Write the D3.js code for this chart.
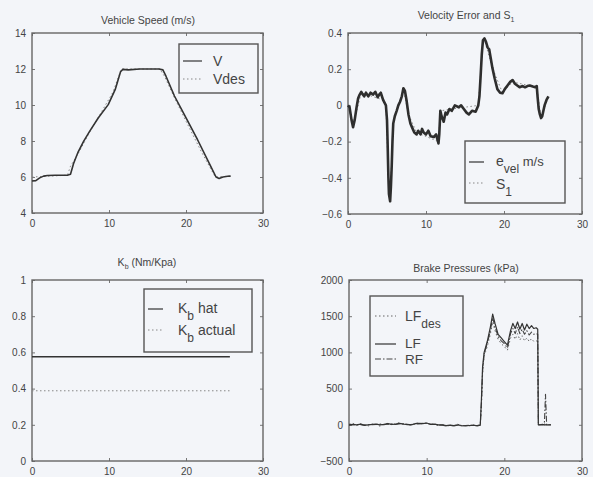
<!DOCTYPE html>
<html><head><meta charset="utf-8">
<script src="https://cdn.jsdelivr.net/npm/d3@7/dist/d3.min.js"></script>
<style>
html,body{margin:0;padding:0;background:#f3f5f9;}
svg{display:block;}
text,tspan{font-family:"Liberation Sans",Arial,sans-serif;fill:#444;}
</style></head><body>
<svg id="c" width="593" height="477"></svg>
<script>
// ---------- DATA ----------
const xTicks = [0, 10, 20, 30];

// Panel 1: Vehicle speed
const speedTicks = [4, 6, 8, 10, 12, 14];
const vTime = [0, 0.5, 1, 1.5, 2, 3, 4, 4.6, 5, 5.4, 6, 6.7, 7.5, 8.6, 9.9, 10.8, 11.5, 11.8, 12.5, 14, 15.5, 16.5, 17, 17.4, 18.5, 19.8, 21.5, 23.2, 23.9, 24.3, 24.8, 25.4, 25.8];
const vSpeed = [5.78, 5.8, 5.95, 6.05, 6.08, 6.1, 6.1, 6.1, 6.15, 6.75, 7.4, 7.98, 8.55, 9.28, 10.02, 10.85, 11.85, 11.98, 11.95, 12.0, 12.0, 12.0, 11.95, 11.6, 10.5, 9.45, 8.07, 6.6, 6.0, 5.92, 6.0, 6.04, 6.05];
const vdesTime = [0, 4.6, 5.0, 6, 7.5, 9, 10.5, 11.6, 16.6, 17.2, 18.5, 20, 22, 23.8, 25.8];
const vdesSpeed = [6.0, 6.1, 6.6, 7.3, 8.5, 9.6, 10.7, 12.0, 12.0, 11.6, 10.4, 9.1, 7.4, 6.0, 6.05];

// Panel 2: Velocity error and S1
const errTicks = [-0.6, -0.4, -0.2, 0, 0.2, 0.4];
const eTime = [0, 0.2, 0.45, 0.65, 0.86, 1.1, 1.3, 1.5, 1.7, 1.9, 2.07, 2.3, 2.6, 2.9, 3.2, 3.5, 3.8, 4.0, 4.2, 4.5, 4.86, 5.0, 5.08, 5.18, 5.25, 5.4, 5.5, 5.6, 5.7, 5.8, 6.0, 6.24, 6.45, 6.67, 6.9, 7.1, 7.3, 7.5, 7.75, 8.0, 8.2, 8.5, 8.8, 9.0, 9.3, 9.5, 9.7, 10.0, 10.3, 10.6, 11.0, 11.3, 11.6, 11.7, 11.84, 12.0, 12.27, 12.5, 12.7, 13.0, 13.3, 13.7, 14.2, 14.5, 14.85, 15.2, 15.5, 15.9, 16.36, 16.7, 16.85, 17.0, 17.15, 17.3, 17.5, 17.7, 17.9, 18.1, 18.3, 18.5, 18.8, 19.15, 19.5, 19.8, 20.1, 20.45, 20.8, 21.1, 21.4, 21.7, 22.0, 22.4, 22.7, 23.0, 23.3, 23.7, 24.0, 24.2, 24.3, 24.45, 24.6, 24.75, 24.9, 25.05, 25.2, 25.45, 25.7];
const eVel = [0.0, -0.01, -0.08, -0.12, -0.08, -0.01, 0.04, 0.06, 0.075, 0.06, 0.05, 0.07, 0.05, 0.07, 0.06, 0.075, 0.045, 0.06, 0.07, 0.03, 0.0, -0.08, -0.21, -0.4, -0.49, -0.53, -0.45, -0.34, -0.2, -0.1, -0.06, -0.03, 0.0, 0.02, 0.05, 0.095, 0.08, 0.03, -0.05, -0.1, -0.12, -0.15, -0.16, -0.14, -0.16, -0.13, -0.15, -0.16, -0.14, -0.17, -0.175, -0.16, -0.21, -0.16, -0.03, -0.06, -0.09, -0.04, -0.05, -0.02, -0.03, -0.0, -0.01, 0.0, -0.02, -0.04, -0.05, -0.03, -0.035, 0.0, 0.05, 0.16, 0.28, 0.36, 0.37, 0.35, 0.32, 0.31, 0.26, 0.21, 0.15, 0.09, 0.07, 0.067, 0.09, 0.11, 0.13, 0.14, 0.12, 0.11, 0.1, 0.107, 0.1, 0.107, 0.11, 0.104, 0.1, 0.107, 0.05, -0.02, -0.05, -0.07, -0.06, -0.03, 0.0, 0.03, 0.05];
const s1Time = [0, 0.65, 1.7, 4.5, 4.86, 5.25, 5.4, 5.8, 7.1, 7.75, 8.8, 11.6, 11.84, 13.3, 16.7, 17.3, 17.5, 18.5, 19.8, 21.1, 24.2, 24.75, 25.7];
const s1Val = [0.0, -0.11, 0.07, 0.03, 0.0, -0.48, -0.52, -0.1, 0.09, -0.05, -0.15, -0.2, -0.03, -0.02, 0.0, 0.35, 0.36, 0.21, 0.07, 0.13, 0.1, -0.07, 0.05];

// Panel 3: Kb
const kbTicks = [0, 0.2, 0.4, 0.6, 0.8, 1];
const kbTime = [0, 25.7];
const kbHat = [0.576, 0.576];
const kbActual = [0.388, 0.388];

// Panel 4: Brake pressures
const bpTicks = [-500, 0, 500, 1000, 1500, 2000];
const bpTime = [0, 0.5, 1, 1.5, 2, 2.5, 3, 3.5, 4, 4.5, 5, 5.5, 6, 6.5, 7, 7.5, 8, 8.5, 9, 9.5, 10, 10.5, 11, 11.5, 12, 12.5, 13, 13.5, 14, 14.5, 15, 15.5, 16, 16.5, 16.9, 17.05, 17.2, 17.4, 17.8, 18.2, 18.5, 18.8, 19.2, 19.6, 20.0, 20.4, 20.8, 21.1, 21.4, 21.7, 22.0, 22.3, 22.6, 22.9, 23.2, 23.5, 23.8, 24.1, 24.3, 24.38, 24.6, 24.9, 25.15, 25.3, 25.45, 25.7, 26.0];
const lfDes = [10, 20, -10, 15, 0, -15, 10, 5, -20, 10, 20, 0, 15, 30, 5, 10, -10, 20, 25, 10, 30, 0, 15, -10, 5, -20, -5, -15, 10, -20, -10, -15, -5, -10, 0, 250, 700, 950, 1080, 1250, 1420, 1300, 1180, 1120, 1080, 1030, 1200, 1250, 1180, 1260, 1170, 1230, 1160, 1200, 1150, 1190, 1150, 1160, 1150, 0, 10, -5, 15, 5, -10, 0, 5];
const lf = [0, 5, 0, 10, -5, 0, 5, 10, 0, 5, 15, 5, 10, 20, 10, 5, 0, 15, 20, 15, 25, 5, 10, 0, 0, -10, -5, -10, 0, -10, -15, -10, -5, -15, -5, 350, 800, 1000, 1150, 1350, 1530, 1400, 1250, 1200, 1150, 1100, 1300, 1400, 1330, 1420, 1320, 1400, 1310, 1390, 1330, 1370, 1330, 1340, 1320, 0, 0, 5, 0, 0, 0, 0, 0];
const rf = [-5, 0, 5, 0, -10, 5, 0, 5, 10, 0, 10, 10, 5, 15, 15, 0, 5, 10, 15, 20, 20, 10, 5, -5, -5, -15, -10, -15, -5, -15, -10, -5, -10, -10, -5, 300, 750, 980, 1120, 1300, 1480, 1350, 1220, 1160, 1120, 1060, 1260, 1330, 1260, 1350, 1260, 1320, 1250, 1300, 1240, 1280, 1250, 1260, 1250, 0, 0, 0, 0, 420, 0, 0, 0];

// ---------- DRAW ----------
const svg = d3.select("#c");
const ink = "#333";

function panel(o) {
  const x = d3.scaleLinear().domain([0, 30]).range([o.x0, o.x1]);
  const y = d3.scaleLinear().domain(o.yDomain).range([o.y1, o.y0]);
  const g = svg.append("g");
  const fmt = o.fmt || (d => d3.format("")(d));
  const ax = (a, t) => a.tickValues(t).tickSizeOuter(0);
  g.append("g").attr("transform", `translate(0,${o.y1})`)
    .call(ax(d3.axisBottom(x), xTicks).tickSizeInner(-3).tickPadding(7).tickFormat(d3.format("d")));
  g.append("g").attr("transform", `translate(0,${o.y0})`)
    .call(ax(d3.axisTop(x), xTicks).tickSizeInner(-3).tickFormat(""));
  g.append("g").attr("transform", `translate(${o.x0},0)`)
    .call(ax(d3.axisLeft(y), o.yTicks).tickSizeInner(-3).tickPadding(6).tickFormat(fmt));
  g.append("g").attr("transform", `translate(${o.x1},0)`)
    .call(ax(d3.axisRight(y), o.yTicks).tickSizeInner(-3).tickFormat(""));
  g.selectAll(".domain").remove();
  g.selectAll(".tick line").attr("stroke", "#777");
  g.selectAll(".tick text").attr("font-size", 10).attr("fill", "#444")
    .style("font-family", "'Liberation Sans',Arial,sans-serif");
  g.append("rect").attr("x", o.x0).attr("y", o.y0).attr("width", o.x1 - o.x0).attr("height", o.y1 - o.y0)
    .attr("fill", "none").attr("stroke", "#666").attr("stroke-width", 1.4);
  o.series.forEach(s => {
    const pts = s.t.map((t, i) => [t, s.v[i]]);
    g.append("path").datum(pts)
      .attr("d", d3.line().x(d => x(d[0])).y(d => y(d[1])))
      .attr("fill", "none").attr("stroke", s.color || ink)
      .attr("stroke-width", s.w || 1.2)
      .attr("stroke-dasharray", s.dash || null)
      .attr("stroke-linejoin", "round");
  });
  return {g, x, y};
}

function title(x, y, parts) {
  const t = svg.append("text").attr("x", x).attr("y", y).attr("text-anchor", "middle")
    .attr("font-size", 10.5).attr("fill", "#444");
  let shift = 0;
  parts.forEach(p => {
    const want = p.sub || 0;
    const sp = t.append("tspan").attr("fill", "#444").attr("dy", want - shift).text(p.s);
    if (p.sub) sp.attr("font-size", 7);
    shift = want;
  });
}

// Panel 1
panel({x0: 32, x1: 263, y0: 33, y1: 213, yDomain: [4, 14], yTicks: speedTicks,
  series: [
    {t: vdesTime, v: vdesSpeed, dash: "1.5,2.5", color: "#888", w: 1},
    {t: vTime, v: vSpeed, w: 1.6}
  ]});
title(148, 24, [{s: "Vehicle Speed (m/s)"}]);

// Panel 2
panel({x0: 348, x1: 582, y0: 33, y1: 214, yDomain: [-0.6, 0.4], yTicks: errTicks,
  fmt: d => d === 0 ? "0" : d3.format(".1f")(d),
  series: [
    {t: s1Time, v: s1Val, dash: "1.5,2.5", color: "#888", w: 1},
    {t: eTime, v: eVel, w: 2.6, color: "#2e2e2e"}
  ]});
title(466, 19, [{s: "Velocity Error and S"}, {s: "1", sub: 3}]);

// Panel 3
panel({x0: 32, x1: 263, y0: 280, y1: 461, yDomain: [0, 1], yTicks: kbTicks,
  fmt: d => (d === 0 || d === 1) ? String(d) : d3.format(".1f")(d),
  series: [
    {t: kbTime, v: kbActual, dash: "1.5,2.5", color: "#888", w: 1},
    {t: kbTime, v: kbHat, w: 1.4}
  ]});
title(147, 266, [{s: "K"}, {s: "b", sub: 3}, {s: " (Nm/Kpa)"}]);

// Panel 4
panel({x0: 349, x1: 582, y0: 280, y1: 461, yDomain: [-500, 2000], yTicks: bpTicks,
  series: [
    {t: bpTime, v: lfDes, dash: "1.5,2.5", color: "#666", w: 1},
    {t: bpTime, v: rf, dash: "6,2,1.5,2", color: "#444", w: 1.1},
    {t: bpTime, v: lf, w: 1.2}
  ]});
title(466, 272, [{s: "Brake Pressures (kPa)"}]);

// ---------- LEGENDS ----------
function legendBox(x0, y0, x1, y1) {
  svg.append("rect").attr("x", x0).attr("y", y0).attr("width", x1 - x0).attr("height", y1 - y0)
    .attr("fill", "#f3f5f9").attr("stroke", "#555").attr("stroke-width", 1.4);
}
function legLine(x0, x1, yy, dash, color) {
  svg.append("line").attr("x1", x0).attr("x2", x1).attr("y1", yy).attr("y2", yy)
    .attr("stroke", color || ink).attr("stroke-width", 1.2).attr("stroke-dasharray", dash || null);
}
function legText(x, y, parts, size) {
  const t = svg.append("text").attr("x", x).attr("y", y).attr("font-size", size || 14).attr("fill", "#333");
  let shift = 0;
  parts.forEach(p => {
    const want = p.sub || 0;
    const sp = t.append("tspan").attr("fill", "#333").attr("dy", want - shift).text(p.s);
    if (p.size) sp.attr("font-size", p.size);
    shift = want;
  });
  return t;
}

// Legend 1
legendBox(179, 44, 258, 93);
legLine(183, 202, 61);
legText(213, 66, [{s: "V"}]);
legLine(183, 202, 79, "1.5,2.5", "#888");
legText(213, 84, [{s: "Vdes"}]);

// Legend 2
legendBox(465, 141, 565, 203);
legLine(469, 484, 162);
legText(496, 166, [{s: "e"}, {s: "vel", sub: 7, size: 12}, {s: " m/s", size: 13}]);
legLine(469, 484, 183, "1.5,2.5", "#888");
legText(496, 189, [{s: "S"}, {s: "1", sub: 7, size: 12}]);

// Legend 3
legendBox(144, 289, 252, 352);
legLine(148, 163, 309);
legText(178, 313, [{s: "K"}, {s: "b", sub: 7, size: 12}, {s: " hat"}]);
legLine(148, 163, 330, "1.5,2.5", "#888");
legText(178, 335, [{s: "K"}, {s: "b", sub: 7, size: 12}, {s: " actual"}]);

// Legend 4
legendBox(370, 296, 463, 376);
legLine(375, 396, 316, "1.5,2.5", "#666");
legText(405, 321, [{s: "LF"}, {s: "des", sub: 7, size: 12}], 14);
legLine(375, 396, 344);
legText(405, 348, [{s: "LF"}], 13.5);
legLine(375, 396, 359, "6,2,1.5,2", "#444");
legText(405, 364, [{s: "RF"}], 13.5);
</script>
</body></html>
